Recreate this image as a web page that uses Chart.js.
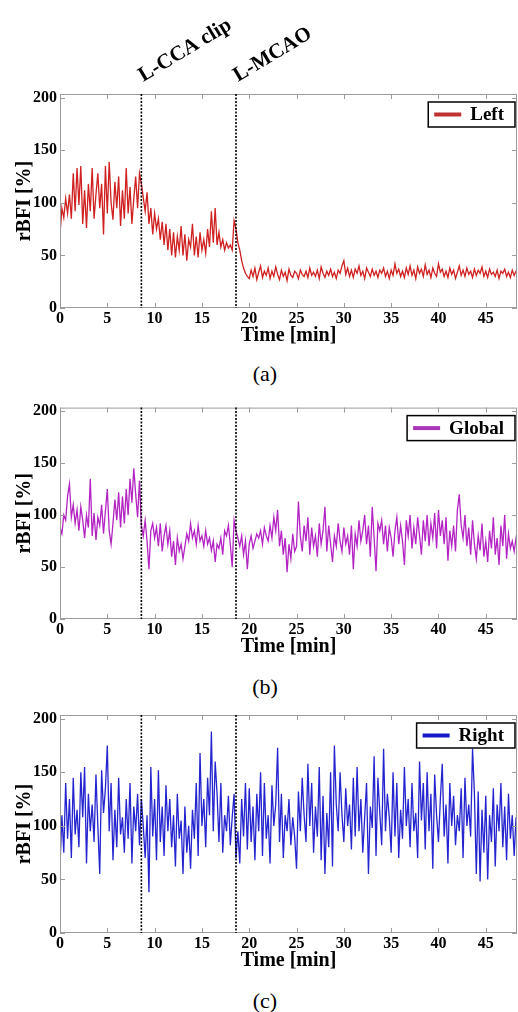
<!DOCTYPE html>
<html><head><meta charset="utf-8">
<script src="https://cdn.jsdelivr.net/npm/chart.js@4.4.0/dist/chart.umd.min.js"></script>
<style>
html,body{margin:0;padding:0;background:#fff;width:518px;height:1012px;overflow:hidden;}
.panel{position:absolute;left:0;width:518px;}
.cap{position:absolute;left:0;width:530px;text-align:center;font:22px 'Liberation Serif',serif;color:#000;line-height:26px;}
</style></head><body>
<div class="panel" style="top:0;height:350px"><canvas id="cA" width="518" height="350"></canvas></div>
<div class="cap" style="top:361px">(a)</div>
<div class="panel" style="top:395px;height:266px"><canvas id="cB" width="518" height="266"></canvas></div>
<div class="cap" style="top:674px">(b)</div>
<div class="panel" style="top:700px;height:275px"><canvas id="cC" width="518" height="275"></canvas></div>
<div class="cap" style="top:988px">(c)</div>
<script>
// ---------- data ----------
const timeStepMin = 0.2;           // sampling step of the series [min]
const xTickLabels = ['0','5','10','15','20','25','30','35','40','45'];
const yTickLabels = ['0','50','100','150','200'];
const seriesNames = ['Left','Global','Right'];
const eventTimes = [8.6, 18.6];
const eventLabels = ['L-CCA clip','L-MCAO'];

const leftValues = [
70,95,86,104,90,
108,85,128,92,133,
98,135,80,112,76,
118,92,133,85,108,
128,95,118,70,135,
90,139,100,84,120,
95,125,78,112,85,
133,90,115,80,104,
125,95,128,118,105,
92,110,80,95,70,
90,75,85,65,82,
60,80,55,75,50,
72,48,68,55,78,
50,70,45,65,58,
80,50,68,48,72,
55,65,52,75,58,
92,62,95,60,72,
58,65,55,62,57,
60,55,83,75,62,
55,45,38,33,30,
28,36,30,38,27,
34,40,29,35,31,
38,28,35,30,39,
32,27,36,30,34,
26,37,31,29,35,
33,28,36,32,30,
35,29,38,31,34,
30,36,28,39,33,
29,35,31,37,30,
34,28,36,33,40,
45,32,38,30,36,
29,37,33,40,31,
35,28,38,34,30,
37,31,35,29,36,
33,38,30,35,28,
36,31,42,33,37,
30,35,29,38,32,
40,31,36,28,39,
33,37,30,41,32,
36,29,38,33,30,
42,34,37,30,35,
29,38,32,36,28,
34,40,31,36,30,
38,32,35,29,37,
31,36,33,39,30,
35,29,37,32,34,
30,36,28,35,33,
37,30,34,29,36,
31,35,32
];

const globalValues = [
88,82,100,95,118,
130,98,110,92,105,
85,108,95,78,100,
88,135,80,102,76,
98,90,110,82,104,
125,85,72,92,115,
95,122,88,118,92,
125,100,135,112,145,
120,98,133,90,80,
95,75,48,85,92,
78,88,70,92,65,
80,90,72,85,60,
75,52,78,65,72,
58,70,82,75,92,
78,85,72,90,75,
80,70,85,72,78,
66,75,55,72,68,
78,62,85,80,90,
72,50,95,85,78,
70,80,62,75,48,
72,80,68,75,82,
78,85,72,88,80,
75,90,78,98,85,
105,70,85,62,78,
45,72,58,82,65,
70,113,80,65,90,
75,98,62,88,70,
80,60,92,72,85,
108,65,90,72,55,
80,70,92,75,65,
88,72,80,62,90,
48,82,70,95,75,
85,100,72,90,60,
108,78,46,92,85,
95,72,90,65,88,
78,60,85,98,72,
90,75,52,95,80,
100,68,88,72,98,
80,62,95,75,100,
70,92,78,102,68,
105,80,95,72,98,
56,85,70,90,65,
105,120,90,78,100,
70,88,62,95,72,
58,80,66,92,60,
75,55,85,68,98,
62,78,52,90,70,
100,58,82,68,75,
65,78,70
];

const rightValues = [
62,110,75,140,88,
125,70,145,92,115,
80,150,108,155,65,
130,95,120,85,148,
100,55,152,112,135,
175,95,140,68,115,
80,145,92,108,75,
125,88,140,65,118,
95,130,82,125,100,
70,110,38,155,90,
125,68,152,85,118,
72,138,95,125,80,
110,62,130,88,105,
55,118,75,100,60,
115,88,140,72,168,
100,125,80,145,110,
188,95,160,130,85,
140,75,110,95,128,
82,108,130,70,95,
65,125,90,140,78,
135,85,118,68,130,
95,150,72,140,88,
110,65,138,100,120,
173,85,130,70,110,
95,125,82,108,90,
60,132,95,145,110,
85,158,100,140,75,
118,90,155,68,128,
55,112,80,150,62,
175,120,95,150,110,
85,135,100,120,78,
145,90,155,95,125,
75,108,140,55,118,
98,165,72,145,112,
82,172,95,130,108,
75,150,90,140,70,
115,88,155,100,125,
80,140,95,112,70,
160,105,140,78,150,
95,130,60,148,110,
85,125,158,90,120,
65,140,100,128,82,
110,95,135,70,145,
100,120,90,172,130,
55,132,48,115,75,
128,50,110,85,135,
62,120,95,140,80,
118,68,130,88,110,
72,108,95
];

// ---------- chart ----------
const X_MAX = 48.3, Y_MAX = 203.5;
const SERIF = "'Liberation Serif', 'Times New Roman', serif";

function toPoints(vals){ return vals.map((v,i)=>({x:+(i*timeStepMin).toFixed(2), y:v})); }

function framePlugin(legendName, legendColor, withLabels){
  return {
    id:'frame',
    afterDatasetsDraw(chart){
      const {ctx, chartArea:a, scales:{x,y}} = chart;
      ctx.save();
      // box
      ctx.strokeStyle = '#9c9c9c'; ctx.lineWidth = 1;
      ctx.strokeRect(a.left+0.5, a.top+0.5, a.right-a.left-1, a.bottom-a.top-1);
      ctx.beginPath();
      x.ticks.forEach(t=>{
        const p = Math.round(x.getPixelForValue(t.value))+0.5;
        ctx.moveTo(p,a.bottom); ctx.lineTo(p,a.bottom-5);
        ctx.moveTo(p,a.top); ctx.lineTo(p,a.top+5);
      });
      y.ticks.forEach(t=>{
        const p = Math.round(y.getPixelForValue(t.value))+0.5;
        ctx.moveTo(a.left,p); ctx.lineTo(a.left+5,p);
        ctx.moveTo(a.right,p); ctx.lineTo(a.right-5,p);
      });
      ctx.stroke();
      // event lines
      ctx.strokeStyle = '#000'; ctx.lineWidth = 1.6; ctx.setLineDash([2,1.5]);
      eventTimes.forEach(t=>{
        const p = x.getPixelForValue(t);
        ctx.beginPath(); ctx.moveTo(p,a.top); ctx.lineTo(p,a.bottom); ctx.stroke();
      });
      ctx.setLineDash([]);
      // legend
      ctx.font = "bold 19px " + SERIF;
      const tw = ctx.measureText(legendName).width;
      const bw = 6+27+9+tw+11, bh = 25;
      const bx = a.right-2-bw, by = a.top+8;
      ctx.fillStyle = '#fff'; ctx.fillRect(bx,by,bw,bh);
      ctx.strokeStyle = '#000'; ctx.lineWidth = 1.5; ctx.strokeRect(bx,by,bw,bh);
      ctx.strokeStyle = legendColor; ctx.lineWidth = 4;
      ctx.beginPath(); ctx.moveTo(bx+6, by+bh/2); ctx.lineTo(bx+33, by+bh/2); ctx.stroke();
      ctx.fillStyle = '#000'; ctx.textBaseline = 'middle'; ctx.textAlign = 'left';
      ctx.fillText(legendName, bx+42, by+bh/2+1);
      // event annotations
      if (withLabels){
        ctx.font = "bold 21px " + SERIF;
        ctx.textBaseline = 'alphabetic';
        eventTimes.forEach((t,i)=>{
          const p = x.getPixelForValue(t);
          ctx.save();
          ctx.translate(p+2, 82);
          ctx.rotate(-31*Math.PI/180);
          ctx.fillText(eventLabels[i], 0, 0);
          ctx.restore();
        });
      }
      ctx.restore();
    }
  };
}

function makeChart(id, vals, name, color, legendColor, padTop, withLabels){
  return new Chart(document.getElementById(id), {
    type:'line',
    data:{datasets:[{label:name, data:toPoints(vals), borderColor:color, borderWidth:1.3, pointRadius:0, tension:0, fill:false}]},
    options:{
      responsive:false, animation:false, devicePixelRatio:1,
      layout:{padding:{top:padTop, right:1, left:0, bottom:0}},
      plugins:{legend:{display:false}, tooltip:{enabled:false}},
      scales:{
        x:{type:'linear', min:0, max:X_MAX,
          grid:{display:false, drawTicks:false, tickLength:0}, border:{display:false},
          ticks:{stepSize:5, includeBounds:false, autoSkip:false, maxRotation:0, padding:1.5,
            color:'#000', font:{family:SERIF, size:16, weight:'bold'},
            callback:(v)=>{const i = xTickLabels.indexOf(String(v)); return i>=0 ? xTickLabels[i] : '';}},
          title:{display:true, text:'Time [min]', color:'#000', font:{family:SERIF, size:20, weight:'bold', lineHeight:1.2}, padding:{top:0,bottom:2}},
          afterFit:(s)=>{ s.height = 42; }
        },
        y:{min:0, max:Y_MAX,
          grid:{display:false, drawTicks:false, tickLength:0}, border:{display:false},
          ticks:{stepSize:50, includeBounds:false, padding:3,
            color:'#000', font:{family:SERIF, size:16, weight:'bold'},
            callback:(v)=>{const i = yTickLabels.indexOf(String(v)); return i>=0 ? yTickLabels[i] : '';}},
          title:{display:true, text:'rBFI [%]', color:'#000', font:{family:SERIF, size:20, weight:'bold', lineHeight:1.2}, padding:{top:13,bottom:0}},
          afterFit:(s)=>{ s.width = 60; }
        }
      }
    },
    plugins:[framePlugin(name, legendColor, withLabels)]
  });
}

makeChart('cA', leftValues,   seriesNames[0], '#d02020', '#c03232', 94, true);
makeChart('cB', globalValues, seriesNames[1], '#b424c4', '#a834b8', 8,  false);
makeChart('cC', rightValues,  seriesNames[2], '#2424d0', '#1818c8', 15, false);
</script>
</body></html>
